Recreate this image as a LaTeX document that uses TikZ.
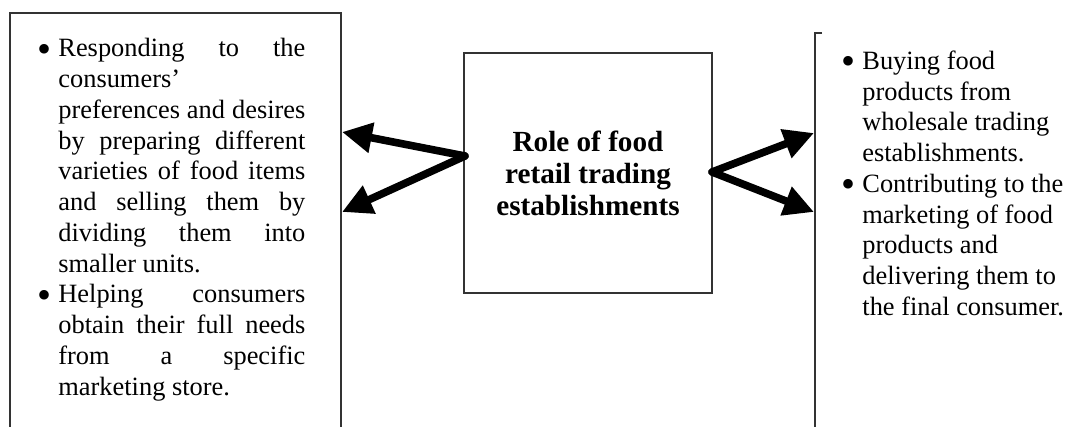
\documentclass[tikz,border=0pt]{standalone}
\usepackage{fontspec}
\setmainfont{Liberation Serif}
\usetikzlibrary{arrows.meta}
\newcommand{\jl}[1]{\makebox[\linewidth][s]{#1}}
\newcommand{\bul}{\leavevmode\llap{\raisebox{-2.6pt}{\fontsize{20}{0}\selectfont\textbullet}\hspace{3.5pt}}}
\begin{document}
\begin{tikzpicture}[x=0.5pt,y=-0.5pt,
  boxline/.style={draw=black!80, line width=0.75pt},
  bigarrow/.style={line width=3.8pt, -{Triangle[length=15pt,width=14.5pt]}, line cap=round},
  body/.style={inner sep=0pt, anchor=base west, font=\fontsize{13.2}{15.37}\selectfont}]
\useasboundingbox[fill=white] (0,0) rectangle (1091,427);
% left and right boxes (open at the bottom)
\draw[boxline] (10,427) -- (10,13) -- (341,13) -- (341,427);
\draw[boxline] (822,33) -- (815,33) -- (815,427);
% central box
\node[boxline, minimum width=124pt, minimum height=120pt, inner sep=0pt] (role) at (588,173) {};
\node[inner sep=0pt, anchor=base, font=\fontsize{14.6}{15.8}\selectfont\bfseries] (roletext) at (588,152)
  {\parbox[t]{130pt}{\centering Role of food\\ retail trading\\ establishments}};
% left text
\node[body] (ltext) at (58,57) {\parbox[t]{123.5pt}{%
\jl{\bul Responding to the}\\
consumers’\\
\jl{preferences and desires}\\
\jl{by preparing different}\\
\jl{varieties of food items}\\
\jl{and selling them by}\\
\jl{dividing them into}\\
smaller units.\\
\jl{\bul Helping consumers}\\
\jl{obtain their full needs}\\
\jl{from a specific}\\
marketing store.}};
% right text
\node[body] (rtext) at (862,69.5) {\parbox[t]{115pt}{%
\bul Buying food\\
products from\\
wholesale trading\\
establishments.\\
\bul Contributing to the\\
marketing of food\\
products and\\
delivering them to\\
the final consumer.}};
% arrows
\coordinate (lo) at (465,156);
\coordinate (lt1) at (342,132);
\coordinate (lt2) at (342,212);
\coordinate (ro) at (712,172);
\coordinate (rt1) at (814,133);
\coordinate (rt2) at (814,212);
\draw[bigarrow] (lo) -- (lt1);
\draw[bigarrow] (lo) -- (lt2);
\draw[bigarrow] (ro) -- (rt1);
\draw[bigarrow] (ro) -- (rt2);
\end{tikzpicture}
\end{document}
